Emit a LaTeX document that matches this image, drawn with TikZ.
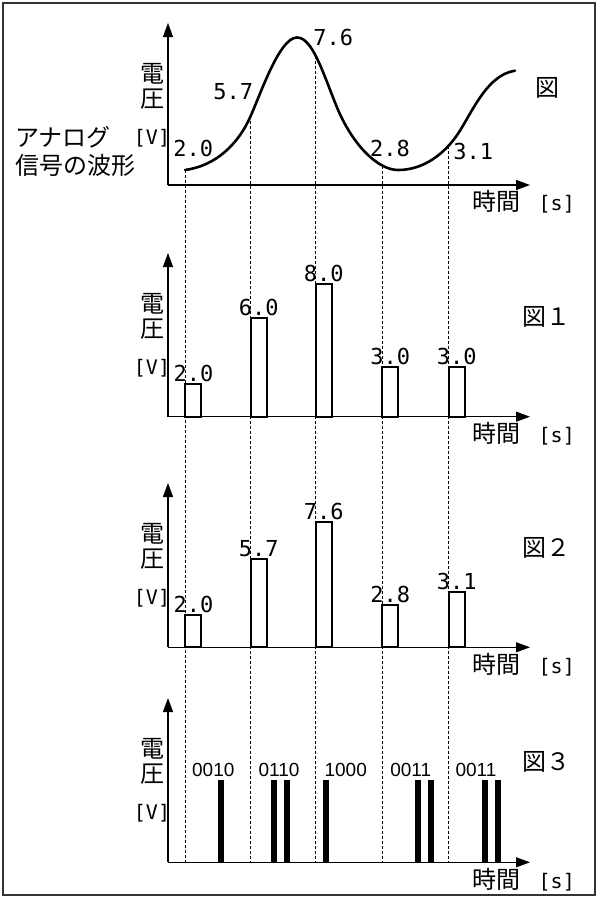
\documentclass[tikz,border=0pt]{standalone}
\usepackage{fontspec}
\usepackage{tikz}
\usetikzlibrary{positioning,arrows.meta,calc,intersections}
\newfontfamily\jfont{Noto Sans CJK JP}
\newfontfamily\numfont{DejaVu Sans Mono}
\newfontfamily\bitfont{Liberation Sans}
\newcommand{\unitsz}{\numfont\fontsize{20}{20}\selectfont}

\begin{document}
\begin{tikzpicture}[x=1pt, y=-1pt, >={Triangle[length=14pt,width=10pt]}, node distance=4pt]
\tikzstyle{jlabel}=[font=\jfont\fontsize{24}{24}\selectfont, inner sep=0pt]
\tikzstyle{num}=[font=\numfont\fontsize{22}{22}\selectfont, inner sep=0pt]
\tikzstyle{unit}=[font=\unitsz, inner sep=0pt]
\tikzstyle{bits}=[font=\bitfont\fontsize{19}{19}\selectfont, inner sep=0pt]
\tikzstyle{bar}=[draw, line width=2pt]
\tikzstyle{guide}=[dash pattern=on 3pt off 2pt, line width=1.1pt]
\tikzstyle{axis}=[->, line width=1.2pt]

\useasboundingbox (0,0) rectangle (600,900);
\draw[line width=2.2pt, black!80] (3,3) rectangle (595,895);

% axes of the four panels
\foreach \n/\t/\b in {0/23/185, 1/253/416.7, 2/483/647.3, 3/698/862.3}
{
  \coordinate (o\n) at (168,\b);
  \coordinate (t\n) at (168,\t);
  \coordinate (e\n) at (530,\b);
  \draw[axis] (o\n) -- (t\n);
  \draw[axis] (o\n) -- (e\n);
  \node[jlabel] (den\n) at (152,{\t+51}) {電};
  \node[jlabel] (atsu\n) [below=of den\n] {圧};
  \node[unit] (volt\n) at (152,{\t+115}) {[V]};
  \node[jlabel, anchor=east] (time\n) at (575,{\b+17}) {時間\hspace{18pt}{\unitsz[s]}};
}

\node[jlabel, anchor=west] (ana) at (15,137.3) {アナログ};
\node[jlabel, anchor=west] (sig) at (15,165) {信号の波形};
\node[jlabel] (fig0) at (547,88.3) {図};
\node[jlabel, anchor=west] (fig1) at (522,317) {図１};
\node[jlabel, anchor=west] (fig2) at (522,548.3) {図２};
\node[jlabel, anchor=west] (fig3) at (522,761.7) {図３};

% analog waveform
\draw[name path=wave, line width=2.6pt, line cap=round]
  (185,170) .. controls (215,166) and (238,145) .. (250.7,116)
  .. controls (262,90) and (280,37.5) .. (297,37.5)
  .. controls (312,37.5) and (322,70) .. (336,105)
  .. controls (352,145) and (378,170) .. (398,170)
  .. controls (420,170) and (440,158) .. (455,138)
  .. controls (470,118) and (485,75) .. (515,70.7);
\foreach \x [count=\i] in {185.4, 250.7, 315.7, 382.3, 448.7}
{
  \path[name path=v\i] (\x,0) -- (\x,900);
  \path[name intersections={of=wave and v\i, by={c\i}}];
  \draw[guide] (c\i) -- (c\i |- o3);
}

\node[num] (w1) at (193.3,148.3) {2.0};
\node[num] (w2) at (233.3,91.7) {5.7};
\node[num] (w3) at (333.3,37.3) {7.6};
\node[num] (w4) at (390,148.3) {2.8};
\node[num] (w5) at (473.3,151.7) {3.1};

% sampled values (fig 1) and quantised values (fig 2)
\foreach \h/\l [count=\i] in {384/2.0, 317.7/6.0, 284/8.0, 366.7/3.0, 366.7/3.0}
{
  \draw[bar] (c\i |- o1) rectangle ($(c\i |- 0,\h) + (16,0)$);
  \node[num, anchor=south, yshift=2pt] (s\i) at ($(c\i |- 0,\h) + (8,0)$) {\l};
}
\foreach \h/\l [count=\i] in {615/2.0, 559/5.7, 522.3/7.6, 605/2.8, 591.7/3.1}
{
  \draw[bar] (c\i |- o2) rectangle ($(c\i |- 0,\h) + (16,0)$);
  \node[num, anchor=south, yshift=2pt] (q\i) at ($(c\i |- 0,\h) + (8,0)$) {\l};
}

% coded pulses (fig 3)
\foreach \x in {221, 273.7, 287, 326, 418.3, 431.3, 485, 497.7}
{\fill ({\x-3},780) rectangle ({\x+3},862.3);}
\foreach \x/\s [count=\i] in {213.3/0010, 279/0110, 345.7/1000, 410.7/0011, 476/0011}
{\node[bits] (code\i) at (\x,770) {\s};}
\end{tikzpicture}
\end{document}
